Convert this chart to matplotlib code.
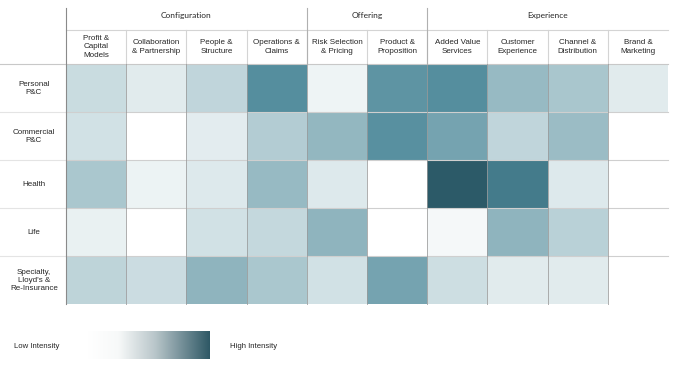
import numpy as np
import matplotlib
matplotlib.use("Agg")
import matplotlib.pyplot as plt
from matplotlib.colors import LinearSegmentedColormap

groups = ["Configuration", "Offering", "Experience"]
group_sizes = [4, 2, 4]
columns = ["Profit &\nCapital\nModels", "Collaboration\n& Partnership", "People &\nStructure",
           "Operations &\nClaims", "Risk Selection\n& Pricing", "Product &\nProposition",
           "Added Value\nServices", "Customer\nExperience", "Channel &\nDistribution",
           "Brand &\nMarketing"]
rows = ["Personal\nP&C", "Commercial\nP&C", "Health", "Life", "Specialty,\nLloyd's &\nRe-Insurance"]

personal   = [0.32, 0.18, 0.37, 0.78, 0.10, 0.75, 0.78, 0.56, 0.48, 0.18]
commercial = [0.27, 0.00, 0.17, 0.43, 0.58, 0.77, 0.68, 0.37, 0.54, 0.00]
health     = [0.47, 0.11, 0.20, 0.56, 0.20, 0.00, 1.00, 0.86, 0.20, 0.00]
life       = [0.13, 0.00, 0.27, 0.35, 0.60, 0.00, 0.06, 0.60, 0.40, 0.00]
specialty  = [0.38, 0.31, 0.60, 0.47, 0.27, 0.68, 0.30, 0.18, 0.18, 0.00]
legend_low, legend_high = "Low Intensity", "High Intensity"

values = np.array([personal, commercial, health, life, specialty])

cmap = LinearSegmentedColormap.from_list(
    "teal", [(0, "#ffffff"), (0.35, "#c4d8dd"), (0.6, "#8fb4be"), (0.8, "#4f8a9b"), (1, "#2c5a68")])
leg_cmap = LinearSegmentedColormap.from_list(
    "leg", [(0, "#ffffff"), (0.25, "#f7f9f9"), (0.55, "#b9c6ca"), (1, "#2e5865")])

W, H = 674, 370
fig = plt.figure(figsize=(W / 100, H / 100), dpi=100)

# grid pixel geometry
gx0, gx1 = 66, 668
gy0, gy1 = 64, 304
ax = fig.add_axes([gx0 / W, 1 - gy1 / H, (gx1 - gx0) / W, (gy1 - gy0) / H])
nr, nc = values.shape
ax.pcolormesh(np.arange(nc + 1), np.arange(nr + 1), values, cmap=cmap, vmin=0, vmax=1)
ax.set_xlim(0, nc)
ax.set_ylim(nr, 0)
ax.axis("off")

colw = (gx1 - gx0) / nc
rowh = (gy1 - gy0) / nr

def dx(px):
    return (px - gx0) / colw

def dy(py):
    return (py - gy0) / rowh

txt = "#262626"
font = "Liberation Sans"

# horizontal row separators
ax.plot([dx(0), nc], [0, 0], color="#c8c8c8", lw=0.8, clip_on=False, zorder=3)
for r in range(1, nr):
    ax.plot([dx(0), 0], [r, r], color="#e4e4e4", lw=0.8, clip_on=False, zorder=3)
    ax.plot([0, nc], [r, r], color="#cfcfcf", lw=0.8, clip_on=False, zorder=3)
# vertical cell separators
for c in range(1, nc):
    ax.plot([c, c], [0, nr], color="#9a9a9a", lw=0.7, clip_on=False, zorder=3, alpha=0.8)
# left border of grid full height
ax.plot([0, 0], [dy(8), nr], color="#8a8a8a", lw=0.8, clip_on=False, zorder=4)

# header lines
ax.plot([0, nc], [dy(30), dy(30)], color="#d4d4d4", lw=0.8, clip_on=False)
for c in range(1, nc):
    ax.plot([c, c], [dy(30), 0], color="#d4d4d4", lw=0.8, clip_on=False)
start = 0
for g, s in zip(groups, group_sizes):
    if start > 0:
        ax.plot([start, start], [dy(8), 0], color="#b0b0b0", lw=0.8, clip_on=False, zorder=4)
    ax.text(start + s / 2, dy(15.5), g, ha="center", va="center", fontsize=6.0,
            family="Lato", color=txt, clip_on=False)
    start += s

for j, lab in enumerate(columns):
    ax.text(j + 0.5, dy(47), lab, ha="center", va="center", fontsize=5.8, family=font,
            color=txt, linespacing=1.3, clip_on=False)

for i, lab in enumerate(rows):
    ax.text(dx(34), i + 0.5, lab, ha="center", va="center", fontsize=5.8, family=font,
            color=txt, linespacing=1.2, clip_on=False)

# legend gradient
lax = fig.add_axes([88 / W, 1 - 359 / H, (210 - 88) / W, (359 - 331) / H])
lax.imshow(np.linspace(0, 1, 256)[None, :], aspect="auto", cmap=leg_cmap)
lax.axis("off")
fig.text(14 / W, 1 - 347 / H, legend_low, ha="left", va="center", fontsize=5.6, family=font, color=txt)
fig.text(230 / W, 1 - 347 / H, legend_high, ha="left", va="center", fontsize=5.6, family=font, color=txt)

fig.savefig("out.png", dpi=100, facecolor="white")
